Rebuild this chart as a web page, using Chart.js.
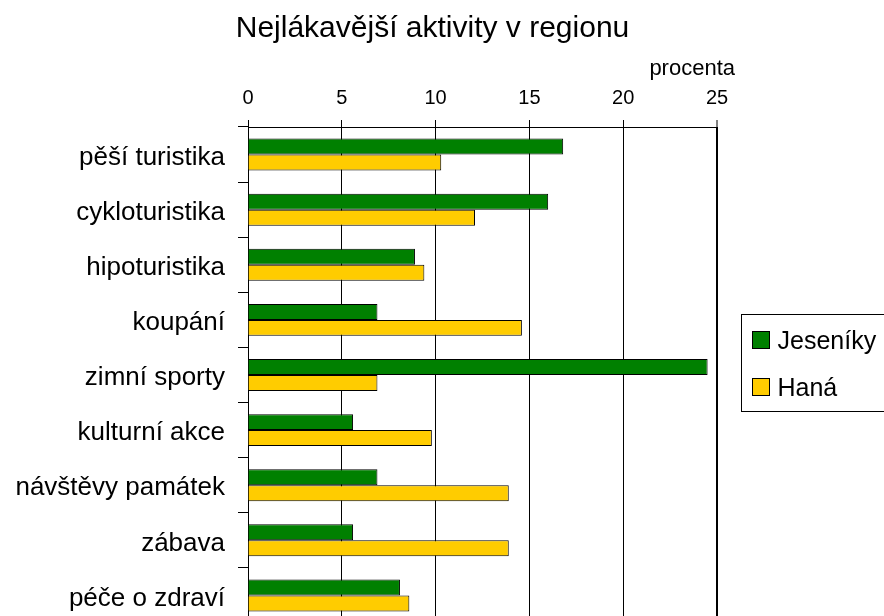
<!DOCTYPE html>
<html lang="cs">
<head>
    <meta charset="UTF-8">
    <title>Nejlákavější aktivity v regionu</title>
    <script src="https://cdn.jsdelivr.net/npm/chart.js"></script>
    <style>
        html, body {
            margin: 0;
            padding: 0;
            overflow: hidden;
            background: #fff;
        }
        #chart {
            display: block;
        }
    </style>
</head>
<body>
    <canvas id="chart" width="884" height="623"></canvas>
    <script>
        // data (percent)
        const categories = ['pěší turistika', 'cykloturistika', 'hipoturistika', 'koupání', 'zimní sporty',
            'kulturní akce', 'návštěvy památek', 'zábava', 'péče o zdraví'];
        const jeseniky = [16.8, 16.0, 8.9, 6.9, 24.5, 5.6, 6.9, 5.6, 8.1];
        const hana = [10.3, 12.1, 9.4, 14.6, 6.9, 9.8, 13.9, 13.9, 8.6];
        const seriesNames = ['Jeseníky', 'Haná'];
        const titleText = 'Nejlákavější aktivity v regionu';
        const unitText = 'procenta';

        const FONT = '"Liberation Sans", Arial, sans-serif';

        // title, unit label and boxed legend on the right
        const decor = {
            id: 'decor',
            afterDraw(chart) {
                const ctx = chart.ctx;
                const area = chart.chartArea;
                ctx.save();
                ctx.fillStyle = '#000';
                ctx.textBaseline = 'alphabetic';

                ctx.font = '30px ' + FONT;
                ctx.textAlign = 'center';
                ctx.fillText(titleText, area.left + 184.5, 37);

                ctx.font = '22px ' + FONT;
                ctx.textAlign = 'right';
                ctx.fillText(unitText, area.right + 18, 75);

                // legend box
                const bx = area.right + 24.5, by = 314.5;
                ctx.strokeStyle = '#000';
                ctx.lineWidth = 1;
                ctx.strokeRect(bx, by, 200, 97);
                ctx.font = '25px ' + FONT;
                ctx.textAlign = 'left';
                chart.data.datasets.forEach((ds, i) => {
                    const top = by + 17 + i * 47;
                    ctx.fillStyle = ds.backgroundColor;
                    ctx.fillRect(bx + 11, top, 17, 17);
                    ctx.strokeRect(bx + 11, top, 17, 17);
                    ctx.fillStyle = '#000';
                    ctx.fillText(ds.label, bx + 36, top + 17);
                });
                ctx.restore();
            }
        };

        new Chart(document.getElementById('chart'), {
            type: 'bar',
            data: {
                labels: categories,
                datasets: [
                    { label: seriesNames[0], data: jeseniky, backgroundColor: '#008000', borderColor: '#000', borderWidth: 1 },
                    { label: seriesNames[1], data: hana, backgroundColor: '#FFCC00', borderColor: '#000', borderWidth: 1 }
                ]
            },
            options: {
                indexAxis: 'y',
                responsive: false,
                animation: false,
                categoryPercentage: 0.58,
                barPercentage: 1.0,
                layout: { padding: { left: 0, right: 167, top: 0, bottom: 0 } },
                plugins: {
                    legend: { display: false },
                    title: { display: false },
                    tooltip: { enabled: false }
                },
                scales: {
                    x: {
                        position: 'top',
                        min: 0,
                        max: 25,
                        ticks: { stepSize: 5, color: '#000', font: { family: FONT, size: 20 }, padding: 10 },
                        grid: {
                            color: '#000',
                            lineWidth: c => (c.tick && c.tick.value === 25 ? 2 : 1),
                            tickLength: 7,
                            tickColor: '#000',
                            tickWidth: 1
                        },
                        border: { display: true, color: '#000', width: 1 },
                        afterFit: s => { s.height = 127; s.paddingLeft = 0; s.paddingRight = 0; }
                    },
                    y: {
                        ticks: { color: '#000', font: { family: FONT, size: 26 }, padding: 13, labelOffset: 3 },
                        grid: {
                            drawOnChartArea: false,
                            tickLength: 10,
                            tickColor: '#000',
                            offset: true
                        },
                        border: { display: true, color: '#000', width: 1 },
                        afterFit: s => { s.width = 248; s.paddingTop = 0; s.paddingBottom = 0; }
                    }
                }
            },
            plugins: [decor]
        });
    </script>
</body>
</html>
